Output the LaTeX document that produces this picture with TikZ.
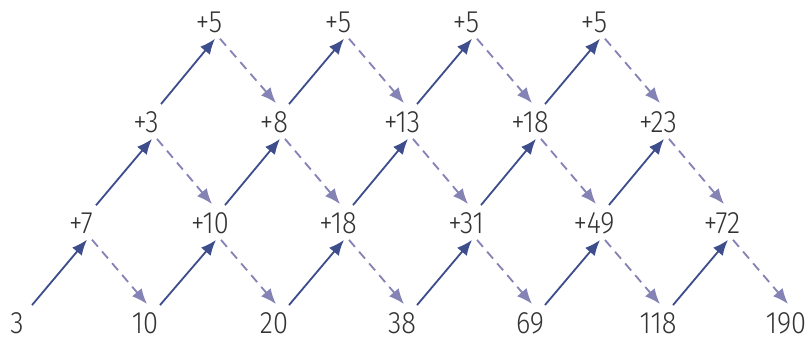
\documentclass[tikz,border=0pt]{standalone}
\usepackage{fontspec}
\setmainfont{Fira Sans Light}[FakeStretch=0.88]
\usepackage{tikz}
\usetikzlibrary{arrows.meta,calc}
\definecolor{ladderInk}{HTML}{333333}
\definecolor{ladderBlue}{HTML}{3E4E8C}
\definecolor{ladderLilac}{HTML}{8583B5}
\newcommand{\riseArrow}[2]{\draw[rise] ($(#1.north)+(15,7)$) -- ($(#2.south)+(6,-6)$);}
\newcommand{\fallArrow}[2]{\draw[fall] ($(#1.south)+(11,-6)$) -- ($(#2.north)+(2,8)$);}
\tikzset{
  term/.style={
    inner sep=0pt,
    text=ladderInk,
    font=\fontsize{22}{24}\selectfont
  },
  rise/.style={
    -{Latex[length=11pt,width=9pt]},
    line width=1.3pt,
    draw=ladderBlue
  },
  fall/.style={
    -{Latex[length=11pt,width=9pt]},
    dash pattern=on 6.5pt off 4.5pt,
    line width=1.3pt,
    draw=ladderLilac
  }
}

\begin{document}
\begin{tikzpicture}[x=0.025cm,y=0.025cm]
  \useasboundingbox (0,0) rectangle (810,338);
  % sequence
  \node[term] (t0) at (17,15) {3};
  \node[term] (t1) at (145,15) {10};
  \node[term] (t2) at (274,15) {20};
  \node[term] (t3) at (402,15) {38};
  \node[term] (t4) at (530,15) {69};
  \node[term] (t5) at (658,15) {118};
  \node[term] (t6) at (786,15) {190};
  % first differences
  \node[term] (f0) at (81,115) {+7};
  \node[term] (f1) at (210,115) {+10};
  \node[term] (f2) at (338,115) {+18};
  \node[term] (f3) at (466,115) {+31};
  \node[term] (f4) at (594,115) {+49};
  \node[term] (f5) at (722,115) {+72};
  % second differences
  \node[term] (s0) at (146,216) {+3};
  \node[term] (s1) at (274,216) {+8};
  \node[term] (s2) at (402,216) {+13};
  \node[term] (s3) at (530,216) {+18};
  \node[term] (s4) at (658,216) {+23};
  % third differences
  \node[term] (r0) at (209,316) {+5};
  \node[term] (r1) at (338,316) {+5};
  \node[term] (r2) at (466,316) {+5};
  \node[term] (r3) at (594,316) {+5};

  \riseArrow{t0}{f0} \fallArrow{f0}{t1}
  \riseArrow{t1}{f1} \fallArrow{f1}{t2}
  \riseArrow{t2}{f2} \fallArrow{f2}{t3}
  \riseArrow{t3}{f3} \fallArrow{f3}{t4}
  \riseArrow{t4}{f4} \fallArrow{f4}{t5}
  \riseArrow{t5}{f5} \fallArrow{f5}{t6}

  \riseArrow{f0}{s0} \fallArrow{s0}{f1}
  \riseArrow{f1}{s1} \fallArrow{s1}{f2}
  \riseArrow{f2}{s2} \fallArrow{s2}{f3}
  \riseArrow{f3}{s3} \fallArrow{s3}{f4}
  \riseArrow{f4}{s4} \fallArrow{s4}{f5}

  \riseArrow{s0}{r0} \fallArrow{r0}{s1}
  \riseArrow{s1}{r1} \fallArrow{r1}{s2}
  \riseArrow{s2}{r2} \fallArrow{r2}{s3}
  \riseArrow{s3}{r3} \fallArrow{r3}{s4}
\end{tikzpicture}
\end{document}
